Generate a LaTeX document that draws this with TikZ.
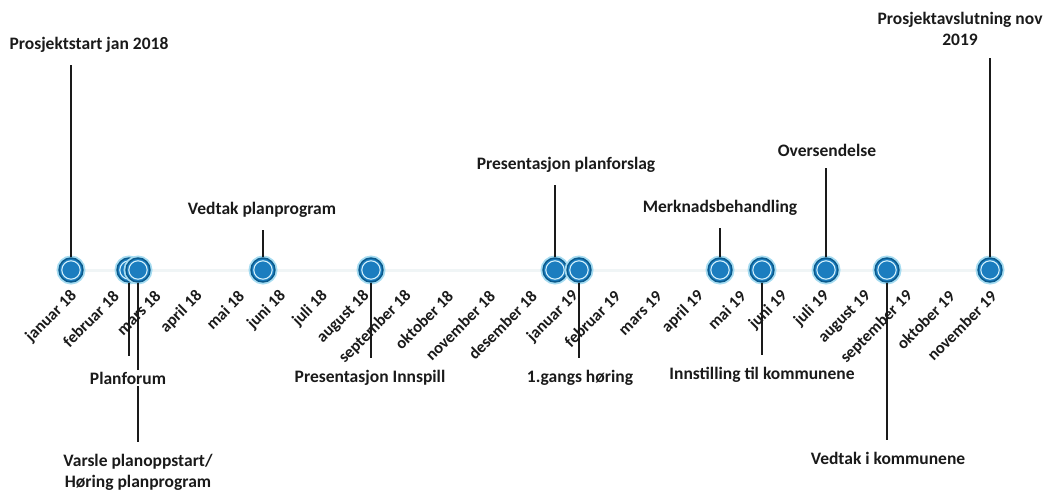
\documentclass[tikz,border=0pt]{standalone}
\usepackage{fontspec}
\setmainfont{Carlito}
\usepackage{xcolor}
\definecolor{tlblue}{HTML}{1B7DBF}
\definecolor{tldark}{HTML}{0A5A8C}
\definecolor{tlring}{HTML}{D4F1FB}
\definecolor{tlglow}{HTML}{A6DCF1}
\definecolor{tlaxis}{HTML}{F0F5F6}
\definecolor{textdark}{HTML}{1A1A1A}
\usepackage{tikz}
\usetikzlibrary{positioning,calc,backgrounds}

\begin{document}
\begin{tikzpicture}[x=1pt, y=-1pt,
    milestone/.style={circle, minimum size=24pt, inner sep=0pt, fill=tlblue, draw=tldark, line width=1.4pt,
      preaction={draw=tlglow, line width=5pt},
      path picture={\draw[tlring, line width=1.1pt] (path picture bounding box.center) circle (9.2pt);}},
    month/.style={font=\fontsize{16.5}{16.5}\selectfont\bfseries, text=textdark, rotate=45, anchor=east, inner sep=1pt},
    event/.style={font=\fontsize{17.5}{21}\selectfont\bfseries, text=textdark, align=center, inner sep=2pt},
    stem/.style={draw=textdark, line width=1.3pt, shorten >=10pt},
  ]
    \useasboundingbox (0,0) rectangle (1043,490);
    % months along the axis
    \foreach \m [count=\i from 0] in {januar 18, februar 18, mars 18, april 18, mai 18, juni 18, juli 18,
        august 18, september 18, oktober 18, november 18, desember 18, januar 19, februar 19, mars 19,
        april 19, mai 19, juni 19, juli 19, august 19, september 19, oktober 19, november 19}
      \node[month] (mo\i) at (75+41.8*\i, 293) {\m};
    % milestones
    \node[milestone] (jan18) at (71,270) {};
    \node[milestone] (mar18a) at (129,270) {};
    \node[milestone] (mar18b) at (138,270) {};
    \node[milestone] (jun18) at (263,270) {};
    \node[milestone] (sep18) at (371,270) {};
    \node[milestone] (jan19a) at (555,270) {};
    \node[milestone] (jan19b) at (579,270) {};
    \node[milestone] (mai19) at (720,270) {};
    \node[milestone] (jun19) at (762,270) {};
    \node[milestone] (jul19) at (826,270) {};
    \node[milestone] (sep19) at (887,270) {};
    \node[milestone] (nov19) at (990,270) {};
    \begin{scope}[on background layer]
      \draw[tlaxis, line width=3pt] (jan18.center) -- (nov19.center);
    \end{scope}
    % labels above
    \node[event] (start) at (89,45) {Prosjektstart jan 2018};
    \node[event] (vplan) at (262,210) {Vedtak planprogram};
    \node[event] (pforslag) at (566,165) {Presentasjon planforslag};
    \node[event] (merknad) at (720,208) {Merknadsbehandling};
    \node[event] (oversend) at (827,150) {Oversendelse};
    \node[event] (slutt) at (960,29) {Prosjektavslutning nov\\2019};
    % labels below
    \node[event] (varsle) at (138,472) {Varsle planoppstart/\\Høring planprogram};
    \node[event] (innspill) at (370,378) {Presentasjon Innspill};
    \node[event] (horing) at (580,378) {1.gangs høring};
    \node[event] (innst) at (762,375) {Innstilling til kommunene};
    \node[event] (vkomm) at (888,458) {Vedtak i kommunene};
    % stems
    \draw[stem] (jan18) -- (jan18 |- start.south);
    \draw[stem] (jun18) -- (jun18 |- vplan.south);
    \draw[stem] (jan19a) -- (jan19a |- pforslag.south);
    \draw[stem] (mai19) -- (mai19 |- merknad.south);
    \draw[stem] (jul19) -- (jul19 |- oversend.south);
    \draw[stem] (nov19) -- (nov19 |- slutt.south);
    \draw[stem] (mar18a) -- (mar18a |- 0,366);
    \draw[stem] (mar18b) -- (mar18b |- varsle.north);
    \draw[stem] (sep18) -- (sep18 |- innspill.north);
    \draw[stem] (jan19b) -- (jan19b |- horing.north);
    \draw[stem] (jun19) -- (jun19 |- innst.north);
    \draw[stem] (sep19) -- (sep19 |- vkomm.north);
    \node[event, fill=white] (pforum) at (128,378) {Planforum};
  \end{tikzpicture}
\end{document}
